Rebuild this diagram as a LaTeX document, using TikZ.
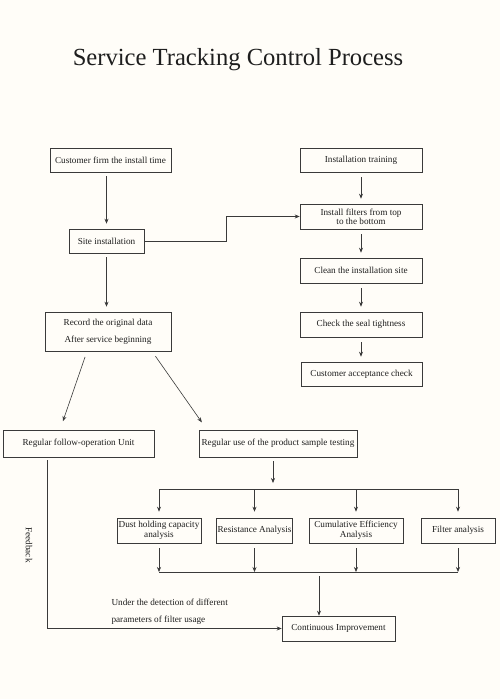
\documentclass[tikz,border=0pt]{standalone}
\usepackage{fontspec}
\setmainfont{Liberation Serif}
\usetikzlibrary{arrows.meta, calc}
\definecolor{inkline}{HTML}{3A3A3A}
\definecolor{inktext}{HTML}{1E1E1E}
\definecolor{paper}{HTML}{FFFDF8}

\begin{document}
\begin{tikzpicture}[x=1pt, y=-1pt, font=\fontsize{9.2}{10}\selectfont, text=inktext,
  procbox/.style={draw=inkline, line width=0.6pt, minimum height=24pt,
    inner xsep=1pt, inner ysep=2pt, align=center},
  flow/.style={draw=inkline, line width=0.6pt, -{Stealth[length=5pt, width=4pt]}},
  link/.style={draw=inkline, line width=0.6pt}]
  \fill[paper] (0,0) rectangle (500,699);
  \useasboundingbox (0,0) rectangle (500,699);

  \node (title) at (238,60) {\fontsize{24.6}{28}\selectfont Service Tracking Control Process};

  \node[procbox, minimum width=121pt] (cust) at (110.5,160) {Customer firm the install time};
  \node[procbox, minimum width=75pt] (site) at (106.5,241) {Site installation};
  \node[procbox, minimum width=126pt, minimum height=39pt] (record) at (108,331.5)
    {Record the original data\\[7pt]After service beginning};

  \node[procbox, minimum width=122pt] (train) at (361,160) {Installation training};
  \node[procbox, minimum width=122pt, minimum height=25pt] (install) at (361,216.5)
    {Install filters from top\\[-1pt]to the bottom};
  \node[procbox, minimum width=122pt, minimum height=25pt] (clean) at (361,270.5) {Clean the installation site};
  \node[procbox, minimum width=122pt, minimum height=25pt] (seal) at (361,324.5) {Check the seal tightness};
  \node[procbox, minimum width=121pt] (accept) at (361.5,374) {Customer acceptance check};

  \node[procbox, minimum width=151pt, minimum height=27pt] (follow) at (78.5,443.5) {Regular follow-operation Unit};
  \node[procbox, minimum width=158pt, minimum height=27pt] (sample) at (278,443.5)
    {Regular use of the product sample testing};

  \node[procbox, minimum width=84pt, minimum height=25pt] (dust) at (159,530.5) {Dust holding capacity\\analysis};
  \node[procbox, minimum width=75pt, minimum height=25pt] (resist) at (254.5,530.5) {Resistance Analysis};
  \node[procbox, minimum width=94pt, minimum height=25pt] (cumul) at (356,530.5) {Cumulative Efficiency\\Analysis};
  \node[procbox, minimum width=74pt, minimum height=25pt] (filt) at (458,530.5) {Filter analysis};

  \node[procbox, minimum width=113pt, minimum height=25pt] (improve) at (338.5,628.5) {Continuous Improvement};

  \node[rotate=-90] (feedback) at (29,545) {Feedback};
  \node[anchor=west] (detect) at (108,602) {Under the detection of different};
  \node[anchor=west] (params) at (108,620) {parameters of filter usage};

  \coordinate (bend) at (226,241);
  \coordinate (topbar) at (273,489);
  \coordinate (lowbar) at (319,572);

  \draw[flow, shorten <=4pt, shorten >=5pt] (cust.south -| site.north) -- (site.north);
  \draw[flow, shorten <=4pt, shorten >=5pt] (site.south) -- (site.south |- record.north);
  \draw[flow] (site.east) -- (bend) |- (install.west);

  \draw[flow, shorten <=5pt, shorten >=5pt] (train) -- (install);
  \draw[flow, shorten <=5pt, shorten >=5pt] (install) -- (clean);
  \draw[flow, shorten <=5pt, shorten >=5pt] (clean) -- (seal);
  \draw[flow, shorten <=5pt, shorten >=5pt] (seal.south) -- (seal.south |- accept.north);

  \draw[flow, shorten <=6pt, shorten >=9pt] ([xshift=-21pt]record.south) -- ([xshift=-18.5pt]follow.north);
  \draw[flow, shorten <=6pt, shorten >=9pt] ([xshift=44pt]record.south) -- ([xshift=-71pt]sample.north);

  \draw[flow, shorten <=4pt, shorten >=6pt] ([xshift=-5pt]sample.south) -- (topbar);
  \draw[link] (topbar -| dust) -- (topbar -| filt);
  \foreach \n in {dust, resist, cumul, filt} {
    \draw[flow, shorten >=6pt] (topbar -| \n) -- (\n.north);
    \draw[flow, shorten <=5pt] (\n.south) -- (lowbar -| \n);
  }
  \draw[link] (lowbar -| dust) -- (lowbar -| filt);
  \draw[flow, shorten <=4pt] (lowbar) -- (lowbar |- improve.north);

  \draw[flow, shorten <=3pt] ([xshift=-31.5pt]follow.south) |- (improve.west);
\end{tikzpicture}
\end{document}
